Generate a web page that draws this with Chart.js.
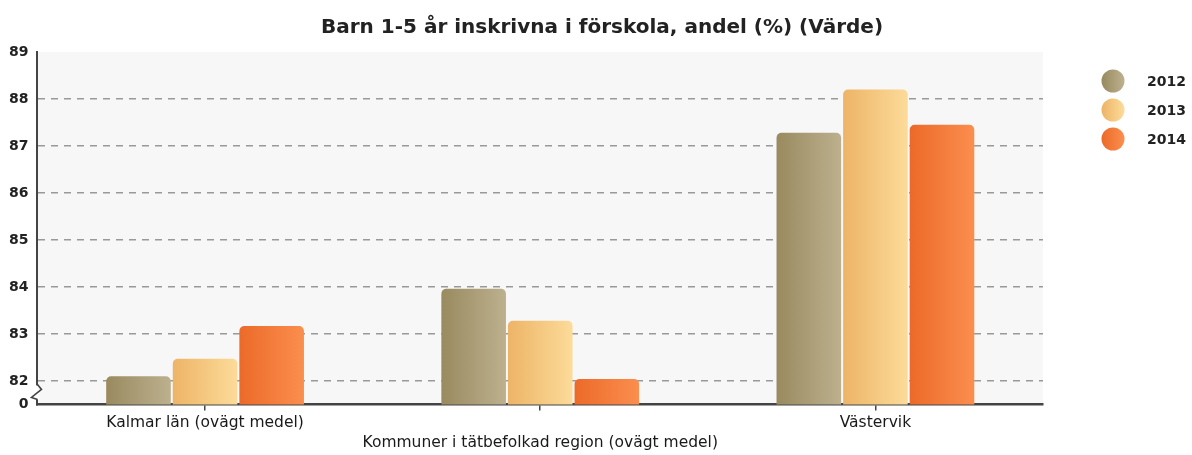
<!DOCTYPE html>
<html>
<head>
<meta charset="utf-8">
<script src="https://cdn.jsdelivr.net/npm/chart.js@4/dist/chart.umd.min.js"></script>
<style>
    html, body { margin: 0; padding: 0; background: #fff; }
</style>
</head>
<body>
<canvas id="chart" width="1192" height="455"></canvas>
<script>
// Données
const chartTitle = 'Barn 1-5 år inskrivna i förskola, andel (%) (Värde)';
const categories = ['Kalmar län (ovägt medel)', 'Kommuner i tätbefolkad region (ovägt medel)', 'Västervik'];
const years = ['2012', '2013', '2014'];
const values2012 = [82.1, 83.96, 87.28];
const values2013 = [82.47, 83.28, 88.2];
const values2014 = [83.17, 82.04, 87.45];
const yTicks = [82, 83, 84, 85, 86, 87, 88, 89];
const yBreakValue = 81.5;   // bas de l'axe coupé, affichée "0"
const yBreakLabel = '0';

// Dégradés gauche -> droite
const gradients = [
    ['#998a5f', '#bcb08e'],
    ['#edb467', '#fcdb99'],
    ['#ec6a29', '#fb8e4e']
];

function barGradient(i) {
    return function (ctx) {
        const el = ctx.element;
        const c = gradients[i];
        if (!el || !el.width || isNaN(el.x)) return c[0];
        const g = ctx.chart.ctx.createLinearGradient(el.x - el.width / 2, 0, el.x + el.width / 2, 0);
        g.addColorStop(0, c[0]);
        g.addColorStop(1, c[1]);
        return g;
    };
}

// Fond de la zone de tracé, titre, coupure de l'axe, légende
const decorations = {
    id: 'decorations',
    beforeDraw(chart) {
        const { ctx, chartArea: a } = chart;
        ctx.save();
        ctx.fillStyle = '#f7f7f7';
        ctx.fillRect(a.left, a.top, a.right - a.left, a.bottom - a.top);
        ctx.restore();
    },
    afterDraw(chart) {
        const { ctx, chartArea: a } = chart;
        ctx.save();
        // titre centré sur toute la largeur
        ctx.fillStyle = '#222';
        ctx.font = 'bold 20px "DejaVu Sans"';
        ctx.textAlign = 'center';
        ctx.textBaseline = 'middle';
        ctx.fillText(chartTitle, chart.width / 2 + 6, 28);

        // coupure de l'axe Y
        ctx.fillStyle = '#ffffff';
        ctx.fillRect(a.left - 3, a.bottom - 19, 5, 14);
        ctx.fillStyle = '#f7f7f7';
        ctx.fillRect(a.left + 2, a.bottom - 19, 6, 14);
        ctx.strokeStyle = '#444';
        ctx.lineWidth = 1.6;
        ctx.beginPath();
        ctx.moveTo(a.left, a.bottom - 20);
        ctx.lineTo(a.left + 4, a.bottom - 15);
        ctx.lineTo(a.left - 6, a.bottom - 7);
        ctx.lineTo(a.left, a.bottom - 5);
        ctx.stroke();

        // légende
        const lx = 1113, ly = [81, 110, 139];
        chart.data.datasets.forEach((ds, i) => {
            const g = ctx.createLinearGradient(lx - 11, 0, lx + 11, 0);
            g.addColorStop(0, gradients[i][0]);
            g.addColorStop(1, gradients[i][1]);
            ctx.fillStyle = g;
            ctx.beginPath();
            ctx.arc(lx, ly[i], 11.5, 0, Math.PI * 2);
            ctx.fill();
            ctx.fillStyle = '#222';
            ctx.font = 'bold 14px "DejaVu Sans"';
            ctx.textBaseline = 'middle';
            ctx.textAlign = 'left';
            ctx.fillText(ds.label, 1147, ly[i] + 1);
        });
        ctx.restore();
    }
};

const seriesValues = [values2012, values2013, values2014];

const chart = new Chart(document.getElementById('chart'), {
    type: 'bar',
    data: {
        labels: categories,
        datasets: years.map((y, i) => ({
            label: y,
            data: seriesValues[i],
            backgroundColor: barGradient(i),
            borderRadius: 5,
            borderSkipped: 'start',
            categoryPercentage: 0.596,
            barPercentage: 0.97
        }))
    },
    options: {
        responsive: false,
        animation: false,
        layout: {
            padding: { left: 0, right: 149, top: 52, bottom: 0 }
        },
        scales: {
            x: {
                grid: {
                    offset: false,
                    drawOnChartArea: false,
                    drawTicks: true,
                    tickLength: 6,
                    color: '#444',
                    lineWidth: 1.5
                },
                border: { color: '#444', width: 2.5 },
                ticks: {
                    padding: 2,
                    autoSkip: false,
                    maxRotation: 0,
                    minRotation: 0,
                    color: '#1a1a1a',
                    font: { family: 'DejaVu Sans', size: 15.5, lineHeight: 1.31 },
                    callback: function (value, index) {
                        const label = this.getLabelForValue(value);
                        return index === 1 ? ['', label] : label;
                    }
                }
            },
            y: {
                min: yBreakValue,
                max: yTicks[yTicks.length - 1],
                afterBuildTicks: axis => {
                    axis.ticks = [yBreakValue].concat(yTicks).map(v => ({ value: v }));
                },
                grid: {
                    drawTicks: false,
                    color: ctx => (ctx.tick && (ctx.tick.value === yBreakValue || ctx.tick.value === yTicks[yTicks.length - 1])) ? 'rgba(0,0,0,0)' : '#999',
                    lineWidth: 1.5
                },
                border: { color: '#444', width: 2, dash: [7, 6] },
                ticks: {
                    padding: 9,
                    color: '#222',
                    font: { family: 'DejaVu Sans', size: 14, weight: 'bold' },
                    callback: v => v === yBreakValue ? yBreakLabel : String(v)
                }
            }
        },
        plugins: {
            legend: { display: false },
            tooltip: { enabled: false },
            title: { display: false }
        }
    },
    plugins: [decorations]
});

// second passage pour que les dégradés connaissent la position des barres
chart.update('none');
</script>
</body>
</html>
